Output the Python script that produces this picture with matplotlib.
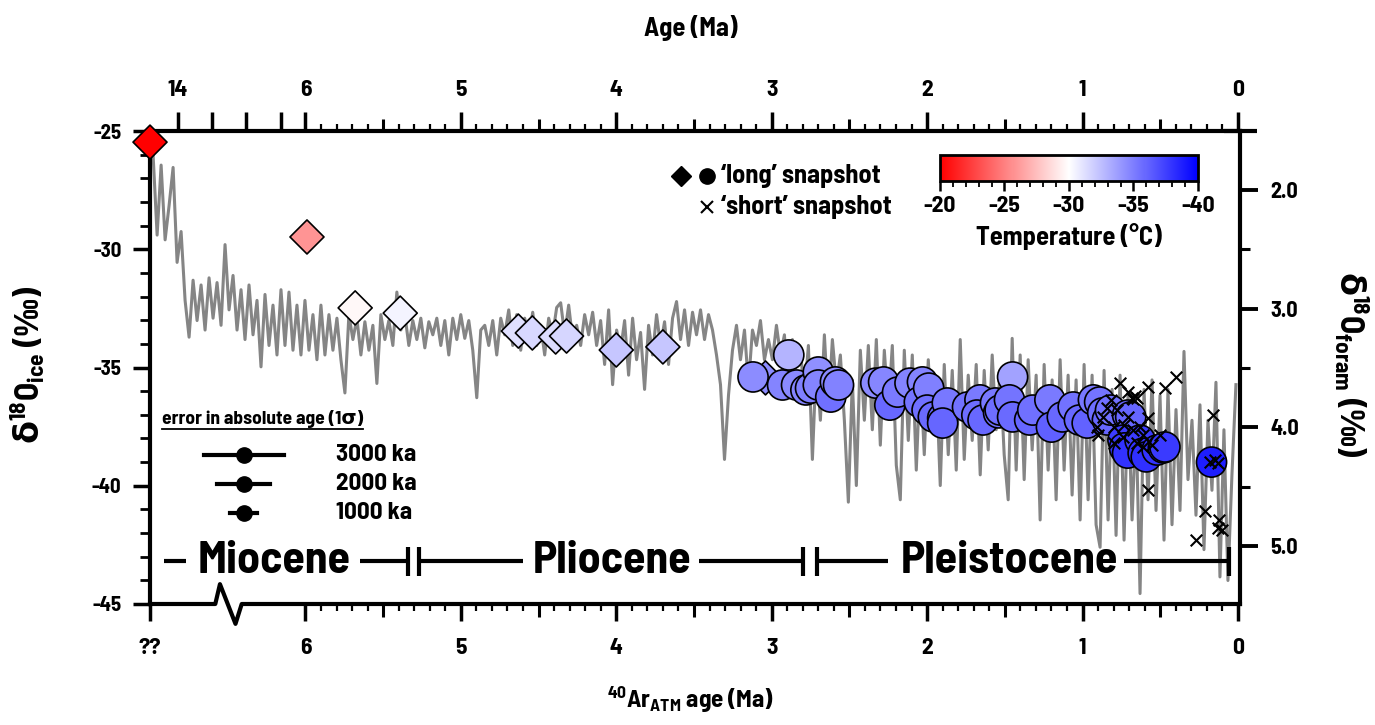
import numpy as np
import matplotlib
matplotlib.use("Agg")
import matplotlib.pyplot as plt
import matplotlib.transforms as mtransforms
from matplotlib.colors import Normalize
from matplotlib.cm import ScalarMappable
from matplotlib.ticker import FixedLocator

FONT = 'Barlow Semi Condensed'
plt.rcParams['font.family'] = [FONT, 'DejaVu Sans']
plt.rcParams['font.weight'] = 'bold'
plt.rcParams['axes.unicode_minus'] = False
plt.rcParams['mathtext.fontset'] = 'custom'
plt.rcParams['mathtext.rm'] = FONT + ':bold'
plt.rcParams['mathtext.it'] = FONT + ':bold'
plt.rcParams['mathtext.bf'] = FONT + ':bold'
plt.rcParams['mathtext.sf'] = 'DejaVu Sans'

# benthic foram d18O stack (permil), plotted against the compressed age axis
gray_foram = [
    1.71, 2.38, 1.79, 2.42, 2.13, 1.81, 2.61, 2.35, 2.93, 3.24, 2.76, 3.10,
    2.80, 3.18, 2.74, 3.08, 2.78, 3.14, 2.46, 3.01, 2.72, 3.18, 2.84, 3.26,
    2.80, 3.22, 2.93, 3.49, 2.88, 3.31, 2.97, 3.39, 2.84, 3.31, 2.86, 3.35,
    2.97, 3.39, 2.93, 3.35, 3.05, 3.43, 2.97, 3.39, 3.05, 3.35, 3.08, 3.43,
    3.71, 3.05, 3.26, 3.08, 3.39, 3.11, 3.35, 3.14, 3.63, 3.05, 3.26, 3.10,
    3.31, 2.86, 3.18, 3.05, 3.31, 3.10, 3.26, 3.08, 3.33, 3.11, 3.22, 3.08,
    3.31, 3.10, 3.39, 3.08, 3.26, 3.05, 3.25, 3.10, 3.35, 3.75, 3.18, 3.14,
    3.31, 3.10, 3.39, 3.08, 3.22, 3.01, 3.31, 3.05, 3.35, 3.08, 3.26, 3.03,
    3.31, 3.14, 3.39, 3.08, 3.22, 2.99, 2.95, 3.22, 2.97, 3.26, 3.14, 3.31,
    3.05, 3.22, 3.03, 3.31, 3.10, 3.47, 3.01, 3.64, 3.18, 3.35, 3.10, 3.56,
    3.08, 3.43, 3.20, 3.68, 3.14, 3.39, 3.05, 3.31, 3.11, 3.47, 3.08, 2.94,
    3.26, 3.01, 3.31, 3.03, 3.22, 3.01, 3.26, 3.05, 3.18, 3.39, 3.64, 4.27,
    3.73, 3.35, 3.14, 3.43, 3.18, 3.64, 3.18, 3.31, 3.10, 3.43, 3.26, 3.43,
    3.14, 3.39, 3.22, 3.73, 3.26, 3.47, 3.35, 3.73, 3.31, 4.27, 3.43, 3.94,
    3.22, 3.85, 3.26, 3.64, 3.39, 3.94, 4.63, 3.60, 4.49, 3.35, 3.94, 3.31,
    4.02, 3.26, 4.15, 3.35, 3.85, 3.31, 4.32, 4.61, 3.35, 4.11, 3.39, 4.36,
    3.52, 4.23, 3.43, 4.02, 3.60, 4.49, 3.47, 4.23, 3.52, 4.36, 3.26, 4.27,
    3.56, 4.11, 3.47, 4.40, 3.52, 4.19, 3.39, 4.02, 3.52, 4.23, 4.61, 3.25,
    4.36, 3.39, 4.44, 3.43, 4.19, 3.56, 4.78, 3.47, 4.36, 3.60, 4.61, 3.43,
    4.36, 3.56, 4.57, 3.60, 4.78, 3.47, 4.61, 3.56, 4.82, 5.01, 3.52, 4.78,
    3.68, 4.91, 3.56, 4.95, 3.73, 4.78, 3.94, 5.40, 3.68, 4.61, 3.60, 4.70,
    3.73, 4.95, 3.68, 4.82, 3.85, 4.70, 3.36, 4.44, 3.94, 4.74, 3.81, 5.03,
    3.94, 4.53, 3.62, 5.26, 4.02, 5.29, 4.40, 3.64,
]
gray_age = np.linspace(6.98, 0.013, len(gray_foram))

# 'long' snapshots, diamonds (age on plot axis, d18O ice, temperature)
dia_age = [7.00, 5.99, 5.68, 5.39, 4.63, 4.54, 4.39, 4.32, 4.00, 3.70, 3.04]
dia_ice = [-25.47, -29.48, -32.48, -32.70, -33.46, -33.54, -33.71, -33.67, -34.26, -34.13, -35.44]
dia_temp = [-20.0, -25.8, -29.7, -30.4, -31.2, -31.5, -31.4, -31.6, -32.2, -32.2, -34.5]

# 'long' snapshots, circles
cir_age = [3.12, 2.93, 2.89, 2.84, 2.78, 2.75, 2.70, 2.70, 2.62, 2.59, 2.57,
           2.33, 2.28, 2.24, 2.19, 2.11, 2.03, 2.05, 1.99, 2.00, 1.96, 1.90, 1.87, 1.90,
           1.74, 1.66, 1.68, 1.64, 1.56, 1.54,
           1.45, 1.53, 1.47, 1.45, 1.34, 1.32, 1.21, 1.20, 1.13, 1.06, 1.02, 0.97,
           0.93, 0.89, 0.87, 0.84, 0.82, 0.71, 0.69,
           0.74, 0.73, 0.71, 0.63, 0.61, 0.59, 0.52, 0.48, 0.47, 0.17]
cir_ice = [-35.40, -35.74, -34.47, -35.74, -35.95, -35.87, -35.19, -35.74, -36.25, -35.61, -35.74,
           -35.66, -35.61, -36.59, -36.04, -35.66, -35.61, -36.46, -35.87, -36.80, -37.09, -37.14, -36.50, -37.35,
           -36.67, -36.37, -37.01, -37.22, -36.50, -36.92,
           -35.40, -36.80, -36.37, -37.09, -37.22, -36.80, -36.37, -37.52, -37.09, -36.67, -37.22, -37.35,
           -36.37, -36.46, -36.92, -37.22, -36.80, -37.01, -37.09,
           -38.07, -38.40, -38.62, -38.07, -38.62, -38.78, -38.49, -38.40, -38.36, -39.00]
cir_temp = [-34.5, -34.8, -32.9, -34.6, -34.8, -35.0, -34.3, -34.8, -35.6, -34.6, -34.9,
            -34.6, -34.7, -35.9, -35.2, -34.8, -34.8, -35.4, -35.0, -35.6, -35.8, -35.9, -35.3, -36.0,
            -35.5, -35.2, -35.7, -35.9, -35.3, -35.6,
            -33.6, -35.7, -35.4, -35.8, -36.0, -35.6, -35.2, -36.2, -35.9, -35.5, -35.9, -36.1,
            -35.3, -35.4, -35.7, -36.0, -35.6, -35.9, -36.0,
            -37.6, -37.8, -38.0, -37.6, -38.0, -38.1, -37.9, -37.8, -37.7, -38.8]

# 'short' snapshots, crosses
x_age = [0.76, 0.71, 0.68, 0.675, 0.65, 0.66, 0.58, 0.47, 0.40, 0.82, 0.84, 0.87, 0.91, 0.90,
         0.80, 0.80, 0.71, 0.675, 0.63, 0.61, 0.58, 0.65, 0.61, 0.50, 0.74, 0.78, 0.73, 0.55,
         0.16, 0.58, 0.21, 0.27, 0.12, 0.13, 0.10, 0.18, 0.15, 0.13]
x_ice = [-35.66, -36.04, -36.29, -36.33, -36.29, -36.20, -35.82, -35.87, -35.40, -36.37, -36.71, -37.09, -37.52, -37.85,
         -37.52, -38.19, -37.09, -37.64, -37.52, -37.85, -37.14, -38.19, -38.36, -37.85, -37.94, -36.80, -37.43, -38.28,
         -37.01, -40.18, -41.07, -42.29, -41.45, -41.79, -41.87, -39.00, -38.91, -39.04]

# axes ticks
bottom_ticks = [0, 1, 2, 3, 4, 5, 6, 7]
bottom_labels = ['0', '1', '2', '3', '4', '5', '6', '??']
top_ticks = [0, 1, 2, 3, 4, 5, 6, 6.16, 6.38, 6.60, 6.82]
top_labels = ['0', '1', '2', '3', '4', '5', '6', '', '', '', '14']
left_ticks = [-45, -40, -35, -30, -25]
right_ticks = [2.0, 3.0, 4.0, 5.0]
temp_ticks = [-20, -25, -30, -35, -40]

# epochs
epoch_names = ['Miocene', 'Pliocene', 'Pleistocene']
epoch_centers = [6.20, 4.03, 1.47]
bracket_lines = [(6.91, 6.77), (5.65, 5.34), (5.27, 4.60), (3.47, 2.80), (2.71, 2.25), (0.73, 0.06)]
bracket_bars = [5.34, 5.27, 2.80, 2.71, 0.06]
bracket_level = -43.2

# age error legend
err_ka = [3000, 2000, 1000]

norm = Normalize(vmin=-40, vmax=-20)
cmap = 'bwr'

fig = plt.figure(figsize=(13.75, 7.25), dpi=100)
ax = fig.add_axes([0.1091, 0.1669, 0.7927, 0.6524])
ax2 = ax.twinx()
ax.set_zorder(ax2.get_zorder() + 1)
ax.patch.set_visible(False)

ax.set_xlim(7.0, -0.013)
ax.set_ylim(-45, -25)
ax2.set_ylim(5.488, 1.503)

ax2.plot(gray_age, gray_foram, color='#858585', lw=2.2, zorder=1)

ax.scatter(dia_age, dia_ice, c=dia_temp, cmap=cmap, norm=norm, marker='D', s=300,
           edgecolors='black', linewidths=1.2, zorder=3, clip_on=False)
ax.scatter(cir_age, cir_ice, c=cir_temp, cmap=cmap, norm=norm, marker='o', s=470,
           edgecolors='black', linewidths=1.2, zorder=4)
ax.scatter(x_age, x_ice, marker='x', s=70, c='black', linewidths=1.5, zorder=5)

# spines
for side in ['right', 'bottom']:
    ax.spines[side].set_visible(False)
for side in ['left', 'top', 'bottom']:
    ax2.spines[side].set_visible(False)
ax.spines['left'].set_linewidth(3)
ax.spines['top'].set_linewidth(3)
ax2.spines['right'].set_linewidth(3)

# bottom axis line with break
blend = mtransforms.blended_transform_factory(ax.transData, ax.transAxes)
ax.plot([7.0, 6.58, 6.55, 6.45, 6.41, -0.013], [0, 0, 0.042, -0.042, 0, 0],
        color='black', lw=3, transform=blend, clip_on=False, zorder=6)
ax.plot([0.985, 1.016], [1, 1], color='black', lw=3, transform=ax.transAxes,
        clip_on=False, zorder=6, solid_capstyle='butt')

# bottom ticks
tenths = [round(v * 0.1, 1) for v in range(1, 60) if v % 5 != 0]
halves = [i + 0.5 for i in range(6)]
ax.set_xticks(bottom_ticks, bottom_labels)
ax.xaxis.set_minor_locator(FixedLocator(tenths))
ax.tick_params(axis='x', which='major', direction='out', length=12.5, width=2.5,
               labelsize=17, pad=12)
ax.tick_params(axis='x', which='minor', direction='out', length=5, width=1.6)
bot_mid = ax.secondary_xaxis('bottom')
bot_mid.set_xticks(halves)
bot_mid.tick_params(direction='out', length=9, width=2.2, labelbottom=False)
for s in bot_mid.spines.values():
    s.set_visible(False)

# top ticks
top = ax.secondary_xaxis('top')
top.set_xticks(top_ticks, top_labels)
top.xaxis.set_minor_locator(FixedLocator(tenths))
top.tick_params(which='major', direction='out', length=13.5, width=2.5, labelsize=17, pad=9)
top.tick_params(which='minor', direction='out', length=5, width=1.6)
for s in top.spines.values():
    s.set_visible(False)
top_mid = ax.secondary_xaxis('top')
top_mid.set_xticks(halves)
top_mid.tick_params(direction='out', length=9, width=2.2, labeltop=False)
for s in top_mid.spines.values():
    s.set_visible(False)

# left ticks
ax.set_yticks(left_ticks, [str(v) for v in left_ticks])
ax.yaxis.set_minor_locator(FixedLocator([v for v in range(-44, -25) if v % 5 != 0]))
ax.tick_params(axis='y', which='major', direction='out', length=12.5, width=2.5,
               labelsize=15, pad=8)
ax.tick_params(axis='y', which='minor', direction='out', length=7, width=2)

# right ticks
ax2.set_yticks(right_ticks, [f'{v:.1f}' for v in right_ticks])
ax2.yaxis.set_minor_locator(FixedLocator([2.5, 3.5, 4.5]))
ax2.tick_params(axis='y', which='major', direction='out', length=13, width=2.8,
                labelsize=16, pad=9)
ax2.tick_params(axis='y', which='minor', direction='out', length=7.5, width=2.2)

# axis labels
fig.text(0.502, 0.961, 'Age (Ma)', ha='center', va='center', fontsize=19)
fig.text(0.502, 0.034, '$^{40}$Ar$_{ATM}$ age (Ma)', ha='center', va='center', fontsize=18)
fig.text(0.020, 0.497, '$\\mathsf{\u03b4}^{18}$O$_{ice}$ (\u2030)', ha='center', va='center',
         rotation=90, fontsize=24)
fig.text(0.983, 0.497, '$\\mathsf{\u03b4}^{18}$O$_{foram}$ (\u2030)', ha='center', va='center',
         rotation=-90, fontsize=24)

# epochs
for name, xc in zip(epoch_names, epoch_centers):
    ax.text(xc, bracket_level, name, ha='center', va='center', fontsize=33, zorder=6)
for x0, x1 in bracket_lines:
    ax.plot([x0, x1], [bracket_level, bracket_level], color='black', lw=3, zorder=6,
            solid_capstyle='butt')
for xb in bracket_bars:
    ax.plot([xb, xb], [bracket_level - 0.6, bracket_level + 0.6], color='black', lw=3,
            zorder=6, solid_capstyle='butt')

# legend for snapshot types
ax.plot([0.487], [0.905], marker='D', ms=10, color='black', transform=ax.transAxes, clip_on=False)
ax.plot([0.511], [0.905], marker='o', ms=11, color='black', transform=ax.transAxes, clip_on=False)
ax.text(0.524, 0.905, '\u2018long\u2019 snapshot', transform=ax.transAxes, ha='left',
        va='center', fontsize=19)
ax.plot([0.511], [0.839], marker='x', ms=9, mew=1.5, color='black', transform=ax.transAxes,
        clip_on=False)
ax.text(0.524, 0.839, '\u2018short\u2019 snapshot', transform=ax.transAxes, ha='left',
        va='center', fontsize=19)

# age error legend
title = ax.text(0.011, 0.391, 'error in absolute age (1\u03c3)', transform=ax.transAxes,
                ha='left', va='center', fontsize=14)
fig.canvas.draw()
bb = title.get_window_extent().transformed(ax.transAxes.inverted())
ax.plot([bb.x0, bb.x1], [bb.y0 - 0.003, bb.y0 - 0.003], color='black', lw=1.3,
        transform=ax.transAxes)
for i, e in enumerate(err_ka):
    yy = 0.315 - i * 0.0615
    hw = 0.0367 * e / 3000
    ax.plot([0.086 - hw, 0.086 + hw], [yy, yy], color='black', lw=3, transform=ax.transAxes)
    ax.plot([0.086], [yy], marker='o', ms=11, color='black', transform=ax.transAxes)
    ax.text(0.171, yy, f'{e} ka', transform=ax.transAxes, ha='left', va='center', fontsize=18)

# colour bar
cax = fig.add_axes([0.6836, 0.7503, 0.1876, 0.0359])
cb = fig.colorbar(ScalarMappable(norm=norm, cmap=cmap), cax=cax, orientation='horizontal')
cax.invert_xaxis()
cb.set_ticks(temp_ticks, labels=[str(t) for t in temp_ticks])
cax.xaxis.set_minor_locator(FixedLocator(list(range(-40, -19))))
cb.outline.set_linewidth(2)
cax.tick_params(which='major', length=7, width=1.8, labelsize=17, pad=4)
cax.tick_params(which='minor', length=4, width=1.3)
cb.set_label('Temperature (\u00b0C)', fontsize=19, weight='bold', labelpad=5)

fig.savefig('out.png', dpi=100)
